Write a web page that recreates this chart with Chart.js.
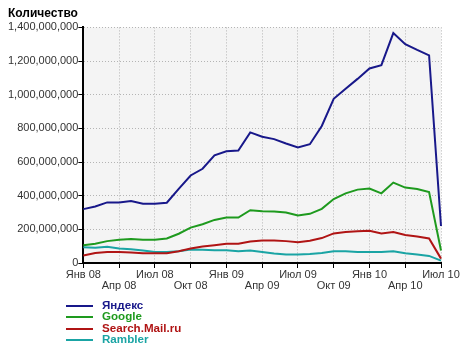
<!DOCTYPE html>
<html>
<head>
<meta charset="utf-8">
<script src="https://cdn.jsdelivr.net/npm/chart.js@4/dist/chart.umd.min.js"></script>
<style>
  body { margin: 0; background: #fff; }
  #wrap { position: relative; width: 466px; height: 352px; }
  #legend { position: absolute; left: 66px; top: 299px; font: bold 11.6px "Liberation Sans", Arial, sans-serif; }
  #legend div { height: 11.3px; line-height: 11.3px; white-space: nowrap; }
  #legend span.ln { display: inline-block; width: 27px; height: 2px; vertical-align: middle; margin-right: 9px; }
</style>
</head>
<body>
<div id="wrap">
  <canvas id="chart" width="466" height="352"></canvas>
  <div id="legend"></div>
</div>
<script>
// Месяцы по оси X
const months = ['Янв 08','Фев 08','Мар 08','Апр 08','Май 08','Июн 08','Июл 08','Авг 08','Сен 08','Окт 08','Ноя 08','Дек 08',
                'Янв 09','Фев 09','Мар 09','Апр 09','Май 09','Июн 09','Июл 09','Авг 09','Сен 09','Окт 09','Ноя 09','Дек 09',
                'Янв 10','Фев 10','Мар 10','Апр 10','Май 10','Июн 10','Июл 10'];

// Значения серий (количество)
const yandex = [320e6,336e6,360e6,360e6,368e6,352e6,352e6,358e6,440e6,520e6,560e6,640e6,
                664e6,668e6,776e6,750e6,736e6,710e6,686e6,706e6,814e6,976e6,1036e6,1094e6,
                1156e6,1176e6,1366e6,1300e6,1266e6,1234e6,220e6];
const google = [106e6,114e6,130e6,138e6,142e6,138e6,138e6,146e6,174e6,210e6,230e6,256e6,
                270e6,270e6,314e6,308e6,306e6,300e6,282e6,292e6,322e6,380e6,414e6,436e6,
                442e6,414e6,478e6,448e6,440e6,422e6,74e6];
const mailru = [44e6,60e6,66e6,66e6,62e6,58e6,58e6,58e6,70e6,86e6,98e6,106e6,
                114e6,114e6,128e6,133e6,134e6,130e6,124e6,132e6,148e6,176e6,184e6,188e6,
                192e6,176e6,184e6,166e6,158e6,146e6,26e6];
const rambler = [94e6,90e6,96e6,86e6,82e6,74e6,66e6,66e6,70e6,80e6,78e6,76e6,
                 76e6,70e6,74e6,66e6,56e6,50e6,50e6,54e6,60e6,70e6,70e6,66e6,
                 66e6,66e6,70e6,58e6,50e6,42e6,14e6];

const seriesNames = ['Яндекс', 'Google', 'Search.Mail.ru', 'Rambler'];
const seriesColors = ['#18188a', '#1e9a1e', '#b01414', '#1aa4a4'];
const yTicks = { min: 0, max: 1400000000, step: 200000000 };

// Фон области графика
const plotBg = {
    id: 'plotBg',
    beforeDraw(chart) {
        const { ctx, chartArea: a } = chart;
        ctx.save();
        ctx.fillStyle = '#f4f4f4';
        ctx.fillRect(a.left, a.top, a.right - a.left, a.bottom - a.top);
        ctx.restore();
    }
};

const isQuarter = (i) => i % 3 === 0;

const chart = new Chart(document.getElementById('chart'), {
    type: 'line',
    data: {
        labels: months,
        datasets: [yandex, google, mailru, rambler].map((d, i) => ({
            label: seriesNames[i],
            data: d,
            borderColor: seriesColors[i],
            backgroundColor: seriesColors[i],
            borderWidth: 2,
            pointRadius: 0,
            tension: 0,
            fill: false
        }))
    },
    options: {
        responsive: false,
        animation: false,
        layout: { padding: { left: 8, right: 25, top: 0, bottom: 60 } },
        plugins: {
            legend: { display: false },
            tooltip: { enabled: false },
            title: {
                display: true,
                text: 'Количество',
                align: 'start',
                color: '#000',
                font: { family: '"Liberation Sans", Arial', size: 12, weight: 'bold' },
                padding: { top: 6, bottom: 7 }
            }
        },
        scales: {
            x: {
                offset: false,
                ticks: {
                    autoSkip: false,
                    maxRotation: 0,
                    color: '#333',
                    padding: 1,
                    font: { family: '"Liberation Sans", Arial', size: 11, lineHeight: 1.0 },
                    callback: function (v, i) {
                        if (!isQuarter(i)) return '';
                        return (i / 3) % 2 === 0 ? [months[i], ''] : ['', months[i]];
                    }
                },
                grid: {
                    color: (c) => isQuarter(c.index) ? '#b4b4b4' : 'transparent',
                    tickColor: (c) => isQuarter(c.index) ? '#000' : 'transparent',
                    tickLength: 5
                },
                border: { display: true, color: '#000', width: 2, dash: [1, 2] }
            },
            y: {
                min: yTicks.min,
                max: yTicks.max,
                ticks: {
                    stepSize: yTicks.step,
                    color: '#333',
                    padding: 0,
                    font: { family: '"Liberation Sans", Arial', size: 11 },
                    callback: (v) => v.toLocaleString('en-US')
                },
                grid: { color: '#b4b4b4', tickColor: '#000', tickLength: 5 },
                border: { display: true, color: '#000', width: 2, dash: [1, 2] }
            }
        }
    },
    plugins: [plotBg]
});

// Легенда
const legend = document.getElementById('legend');
chart.data.datasets.forEach((ds) => {
    const row = document.createElement('div');
    row.innerHTML = '<span class="ln" style="background:' + ds.borderColor + '"></span>';
    const t = document.createElement('span');
    t.style.color = ds.borderColor;
    t.innerText = ds.label;
    row.appendChild(t);
    legend.appendChild(row);
});
</script>
</body>
</html>
